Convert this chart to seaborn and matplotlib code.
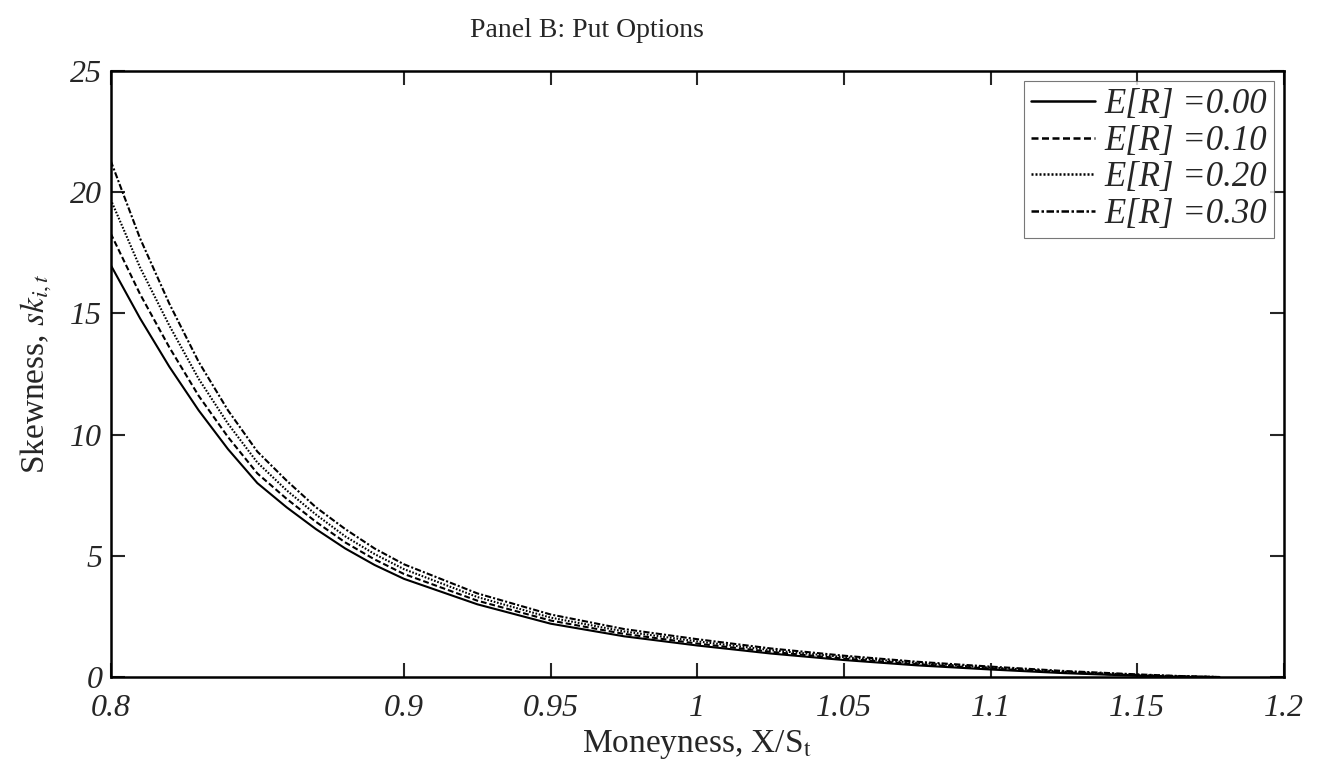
import numpy as np
import pandas as pd
import seaborn as sns
import matplotlib
matplotlib.use("Agg")
import matplotlib.pyplot as plt

# moneyness grid and skewness curves
moneyness = [0.80, 0.81, 0.82, 0.83, 0.84, 0.85, 0.86, 0.87, 0.88, 0.89, 0.90,
             0.925, 0.95, 0.975, 1.00, 1.025, 1.05, 1.075, 1.10, 1.125, 1.15, 1.165, 1.178]
sk_000 = [17.0, 14.8, 12.8, 11.0, 9.4, 8.0, 7.0, 6.1, 5.3, 4.62, 4.05,
          3.0, 2.2, 1.68, 1.3, 0.97, 0.7, 0.48, 0.31, 0.16, 0.05, 0.01, 0.0]
sk_010 = [18.3, 15.8, 13.6, 11.6, 9.9, 8.4, 7.35, 6.4, 5.55, 4.85, 4.25,
          3.15, 2.33, 1.78, 1.38, 1.04, 0.76, 0.53, 0.35, 0.19, 0.07, 0.02, 0.0]
sk_020 = [19.7, 16.9, 14.5, 12.3, 10.45, 8.85, 7.7, 6.7, 5.8, 5.07, 4.45,
          3.3, 2.45, 1.88, 1.47, 1.11, 0.82, 0.58, 0.39, 0.22, 0.09, 0.03, 0.0]
sk_030 = [21.3, 18.1, 15.4, 13.0, 11.0, 9.3, 8.1, 7.0, 6.1, 5.3, 4.65,
          3.45, 2.58, 1.98, 1.56, 1.18, 0.88, 0.63, 0.43, 0.25, 0.11, 0.04, 0.0]
labels = ["E[R] =0.00", "E[R] =0.10", "E[R] =0.20", "E[R] =0.30"]

x_ticks = [0.8, 0.9, 0.95, 1.0, 1.05, 1.1, 1.15, 1.2]
x_ticklabels = ["0.8", "0.9", "0.95", "1", "1.05", "1.1", "1.15", "1.2"]
y_ticks = [0, 5, 10, 15, 20, 25]

df = pd.concat([
    pd.DataFrame({"x": moneyness, "y": s, "label": lab})
    for s, lab in zip([sk_000, sk_010, sk_020, sk_030], labels)
])

sns.set_style("white")
plt.rcParams["font.family"] = ["Liberation Serif", "DejaVu Serif"]
plt.rcParams["mathtext.fontset"] = "stix"

fig = plt.figure(figsize=(13.27, 7.69), dpi=100)
ax = fig.add_axes([0.0834, 0.1196, 0.8842, 0.7881])

dashes = {labels[0]: "", labels[1]: (2.8, 1.4), labels[2]: (0.8, 0.8), labels[3]: (3, 1, 1, 1)}
sns.lineplot(data=df, x="x", y="y", style="label", dashes=dashes, color="black",
             linewidth=1.5, ax=ax, legend=True)

ax.set_xlim(0.8, 1.2)
ax.set_ylim(0, 25)
ax.set_xticks(x_ticks)
ax.set_xticklabels(x_ticklabels, fontsize=23, fontstyle="italic")
ax.set_yticks(y_ticks)
ax.set_yticklabels([str(v) for v in y_ticks], fontsize=23, fontstyle="italic")
ax.tick_params(direction="in", length=10, width=1.5, top=True, right=True,
               bottom=True, left=True)
ax.tick_params(axis="x", pad=12)
ax.tick_params(axis="y", pad=6)

for sp in ax.spines.values():
    sp.set_visible(True)
    sp.set_color("black")
    sp.set_linewidth(1.8)

ax.set_xlabel(r"Moneyness, X/S$_\mathrm{t}$", fontsize=24, labelpad=4)
ax.set_ylabel(r"Skewness, $sk_{i,t}$", fontsize=24, labelpad=12)

leg = ax.legend(loc="upper right", fontsize=25, handlelength=1.85, handletextpad=0.25,
                labelspacing=0.1, borderpad=0.2, borderaxespad=0.3, frameon=True,
                fancybox=False)
leg.get_frame().set_edgecolor("#555555")
leg.get_frame().set_linewidth(0.8)
for t in leg.get_texts():
    t.set_fontstyle("italic")
for h in leg.get_lines():
    h.set_linewidth(1.8)

fig.text(0.442, 0.960, "Panel B: Put Options", fontsize=20, ha="center", va="center")

fig.savefig("out.png", dpi=100)
